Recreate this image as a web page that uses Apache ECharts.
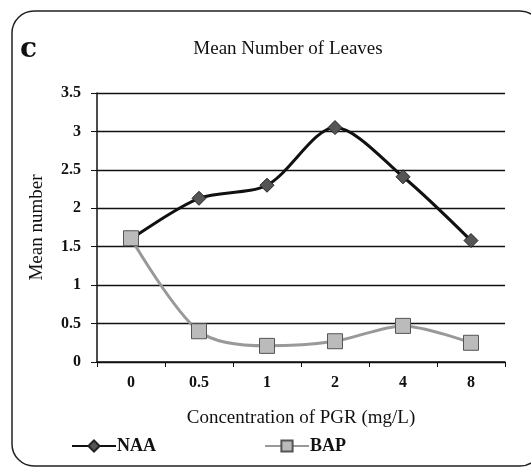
<!DOCTYPE html>
<html>
<head>
<meta charset="utf-8">
<script src="https://cdn.jsdelivr.net/npm/echarts@6/dist/echarts.min.js"></script>
<style>html,body{margin:0;padding:0;background:#fff}#c{width:531px;height:470px}</style>
</head>
<body>
<div id="c"></div>
<script>
var categories = ['0', '0.5', '1', '2', '4', '8'];
var naaValues = [1.6, 2.13, 2.3, 3.05, 2.41, 1.58];
var bapValues = [1.61, 0.4, 0.21, 0.27, 0.47, 0.25];
var yTicks = [0, 0.5, 1, 1.5, 2, 2.5, 3, 3.5];

var serif = '"Liberation Serif", "DejaVu Serif", serif';
var chart = echarts.init(document.getElementById('c'));
chart.setOption({
  animation: false,
  backgroundColor: '#fff',
  graphic: [
    {type: 'rect', shape: {x: 12, y: 11, width: 530, height: 455, r: 22},
     style: {fill: 'none', stroke: '#222', lineWidth: 1.5}, silent: true},
    {type: 'text', left: 20, top: 36,
     style: {text: 'c', font: 'bold 28px "DejaVu Serif", serif', fill: '#111'}}
  ],
  title: {
    text: 'Mean Number of Leaves', left: 283, top: 35, textAlign: 'center',
    textStyle: {fontFamily: serif, fontSize: 19, fontWeight: 'normal', color: '#111'}
  },
  legend: {
    left: 66, top: 432, itemWidth: 44, itemHeight: 14, itemGap: 108,
    textStyle: {fontFamily: serif, fontSize: 18, fontWeight: 'bold', color: '#111', padding: [0, 0, 0, -4]},
    data: ['NAA', 'BAP']
  },
  grid: {left: 97, right: 26, top: 93, bottom: 108},
  xAxis: {
    type: 'category', data: categories, boundaryGap: true,
    name: 'Concentration of PGR (mg/L)', nameLocation: 'middle', nameGap: 47,
    nameTextStyle: {fontFamily: serif, fontSize: 19, color: '#111'},
    axisLine: {lineStyle: {color: '#111', width: 1.5}},
    axisTick: {show: true, length: 5, lineStyle: {color: '#111'}},
    axisLabel: {fontFamily: serif, fontSize: 16, fontWeight: 'bold', color: '#111', margin: 13}
  },
  yAxis: {
    type: 'value', min: yTicks[0], max: yTicks[yTicks.length - 1], interval: 0.5,
    name: 'Mean number', nameLocation: 'middle', nameGap: 50,
    nameTextStyle: {fontFamily: serif, fontSize: 19, color: '#111'},
    axisLine: {show: true, lineStyle: {color: '#111', width: 1.5}},
    axisTick: {show: true, length: 6, lineStyle: {color: '#111'}},
    splitLine: {lineStyle: {color: '#111', width: 1.3}},
    axisLabel: {fontFamily: serif, fontSize: 16, fontWeight: 'bold', color: '#111', margin: 16}
  },
  series: [
    {
      name: 'NAA', type: 'line', data: naaValues, smooth: 0.3,
      symbol: 'diamond', symbolSize: 14, z: 2,
      lineStyle: {color: '#111', width: 3},
      itemStyle: {color: '#555', borderColor: '#222', borderWidth: 1}
    },
    {
      name: 'BAP', type: 'line', data: bapValues, smooth: 0.3,
      symbol: 'rect', symbolSize: 15, z: 3,
      lineStyle: {color: '#999', width: 3},
      itemStyle: {color: '#bbb', borderColor: '#555', borderWidth: 1}
    }
  ]
});
</script>
</body>
</html>
